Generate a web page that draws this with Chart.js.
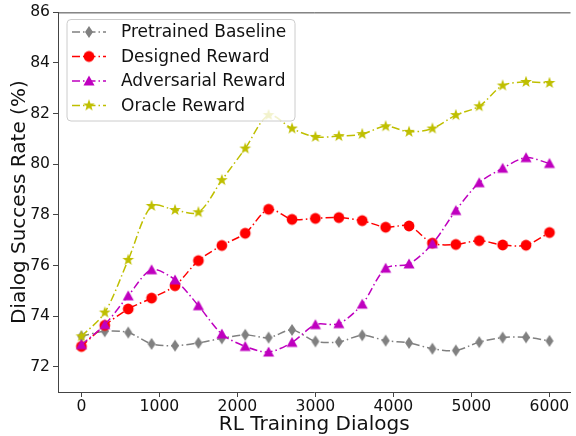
<!DOCTYPE html>
<html lang="en">
<head>
<meta charset="UTF-8">
<title>Dialog Success Rate</title>
<style>
    * { margin: 0; padding: 0; box-sizing: border-box; }
    body { background: #ffffff; width: 576px; height: 436px; overflow: hidden; }
</style>
</head>
<body>
<canvas id="successChart" width="576" height="436"></canvas>

<script src="https://cdn.jsdelivr.net/npm/chart.js"></script>
<script>
    // values
    const dialogs = [0, 300, 600, 900, 1200, 1500, 1800, 2100, 2400, 2700, 3000,
                     3300, 3600, 3900, 4200, 4500, 4800, 5100, 5400, 5700, 6000];
    const pretrainedBaseline = [73.2, 73.4, 73.35, 72.9, 72.83, 72.94, 73.12, 73.26, 73.15, 73.45, 73.0,
                                72.98, 73.24, 73.03, 72.94, 72.71, 72.64, 72.97, 73.15, 73.16, 73.02];
    const designedReward = [72.8, 73.63, 74.28, 74.71, 75.2, 76.19, 76.79, 77.27, 78.22, 77.82, 77.86,
                            77.89, 77.77, 77.51, 77.56, 76.88, 76.83, 76.98, 76.81, 76.8, 77.3];
    const adversarialReward = [72.87, 73.66, 74.8, 75.83, 75.43, 74.41, 73.29, 72.8, 72.58, 72.96, 73.66,
                               73.7, 74.47, 75.89, 76.06, 76.86, 78.17, 79.27, 79.84, 80.26, 80.03];
    const oracleReward = [73.2, 74.14, 76.22, 78.35, 78.19, 78.1, 79.37, 80.62, 81.94, 81.41, 81.08,
                          81.11, 81.19, 81.5, 81.28, 81.41, 81.94, 82.29, 83.11, 83.25, 83.21];
    const xTicks = [0, 1000, 2000, 3000, 4000, 5000, 6000];
    const yTicks = [72, 74, 76, 78, 80, 82, 84, 86];

    const dashDot = [8, 3, 1.5, 3];
    const axisColor = '#444444';
    const textColor = '#111111';
    const fontFamily = "'DejaVu Sans', sans-serif";

    // filled markers like matplotlib's
    function makeMarker(kind, color) {
        const c = document.createElement('canvas');
        c.width = 16;
        c.height = 16;
        const g = c.getContext('2d');
        const m = 8;
        g.fillStyle = color;
        g.beginPath();
        if (kind === 'circle') {
            g.arc(m, m, 5.4, 0, Math.PI * 2);
        } else if (kind === 'diamond') {
            g.moveTo(m, m - 6); g.lineTo(m + 4, m); g.lineTo(m, m + 6); g.lineTo(m - 4, m);
        } else if (kind === 'triangle') {
            g.moveTo(m, m - 5.5); g.lineTo(m + 5.5, m + 4.5); g.lineTo(m - 5.5, m + 4.5);
        } else {
            for (let i = 0; i < 10; i++) {
                const r = i % 2 ? 2.5 : 6.2;
                const a = -Math.PI / 2 + i * Math.PI / 5;
                g.lineTo(m + r * Math.cos(a), m + r * Math.sin(a));
            }
        }
        g.closePath();
        g.fill();
        return c;
    }

    const series = [
        { label: 'Pretrained Baseline', values: pretrainedBaseline, color: '#808080', marker: makeMarker('diamond', '#808080') },
        { label: 'Designed Reward', values: designedReward, color: '#ff0000', marker: makeMarker('circle', '#ff0000') },
        { label: 'Adversarial Reward', values: adversarialReward, color: '#bf00bf', marker: makeMarker('triangle', '#bf00bf') },
        { label: 'Oracle Reward', values: oracleReward, color: '#bfbf00', marker: makeMarker('star', '#bfbf00') }
    ];

    // legend drawn inside the plot, upper left
    const insideLegend = {
        id: 'insideLegend',
        afterDraw(chart) {
            const ctx = chart.ctx;
            ctx.save();
            ctx.beginPath();
            ctx.roundRect(67, 19.5, 228, 101.5, 4);
            ctx.fillStyle = 'rgba(255,255,255,0.8)';
            ctx.fill();
            ctx.strokeStyle = '#cccccc';
            ctx.lineWidth = 1;
            ctx.stroke();
            series.forEach((s, i) => {
                const y = 32 + i * 24.5;
                ctx.beginPath();
                ctx.setLineDash(dashDot);
                ctx.strokeStyle = s.color;
                ctx.lineWidth = 1.5;
                ctx.moveTo(72, y);
                ctx.lineTo(106, y);
                ctx.stroke();
                ctx.setLineDash([]);
                ctx.drawImage(s.marker, 89 - 8, y - 8);
                ctx.fillStyle = textColor;
                ctx.font = '17px ' + fontFamily;
                ctx.textBaseline = 'middle';
                ctx.fillText(s.label, 121, y + 1);
            });
            ctx.restore();
        }
    };

    // top spine of the axes frame
    const topFrame = {
        id: 'topFrame',
        afterDraw(chart) {
            const a = chart.chartArea;
            const ctx = chart.ctx;
            ctx.save();
            ctx.strokeStyle = axisColor;
            ctx.lineWidth = 1;
            ctx.beginPath();
            ctx.moveTo(a.left, a.top + 0.5);
            ctx.lineTo(a.right, a.top + 0.5);
            ctx.stroke();
            ctx.restore();
        }
    };

    const ctx = document.getElementById('successChart').getContext('2d');
    const successChart = new Chart(ctx, {
        type: 'line',
        data: {
            datasets: series.map((s, i) => ({
                label: s.label,
                data: dialogs.map((d, j) => ({ x: d, y: s.values[j] })),
                borderColor: s.color,
                backgroundColor: s.color,
                borderWidth: 1.5,
                borderDash: dashDot,
                tension: 0.3,
                fill: false,
                pointStyle: s.marker,
                order: series.length - i
            }))
        },
        options: {
            responsive: false,
            animation: false,
            devicePixelRatio: 1,
            layout: { padding: { top: 11, right: 0, left: 8, bottom: 0 } },
            plugins: {
                legend: { display: false },
                tooltip: { enabled: false }
            },
            scales: {
                x: {
                    type: 'linear',
                    min: -300,
                    max: 6270,
                    afterBuildTicks: s => { s.ticks = xTicks.map(v => ({ value: v })); },
                    afterFit: s => { s.height = 44; },
                    grid: { drawOnChartArea: false, drawTicks: true, tickLength: 5, color: axisColor },
                    border: { display: true, color: axisColor, width: 1 },
                    ticks: { autoSkip: false, maxRotation: 0, padding: 1, color: textColor,
                             callback: v => String(v),
                             font: { family: fontFamily, size: 15.6 } },
                    title: { display: true, text: 'RL Training Dialogs', color: textColor,
                             font: { family: fontFamily, size: 20, lineHeight: 1.1 }, padding: { top: 0, bottom: 0 } }
                },
                y: {
                    min: 71,
                    max: 86,
                    afterBuildTicks: s => { s.ticks = yTicks.map(v => ({ value: v })); },
                    afterFit: s => { s.width = 50; },
                    grid: { drawOnChartArea: false, drawTicks: true, tickLength: 5, color: axisColor },
                    border: { display: true, color: axisColor, width: 1 },
                    ticks: { padding: 3, color: textColor, callback: v => String(v),
                             font: { family: fontFamily, size: 15.6 } },
                    title: { display: true, text: 'Dialog Success Rate (%)', color: textColor,
                             font: { family: fontFamily, size: 20 }, padding: { top: 0, bottom: 0 } }
                }
            }
        },
        plugins: [topFrame, insideLegend]
    });
</script>
</body>
</html>
